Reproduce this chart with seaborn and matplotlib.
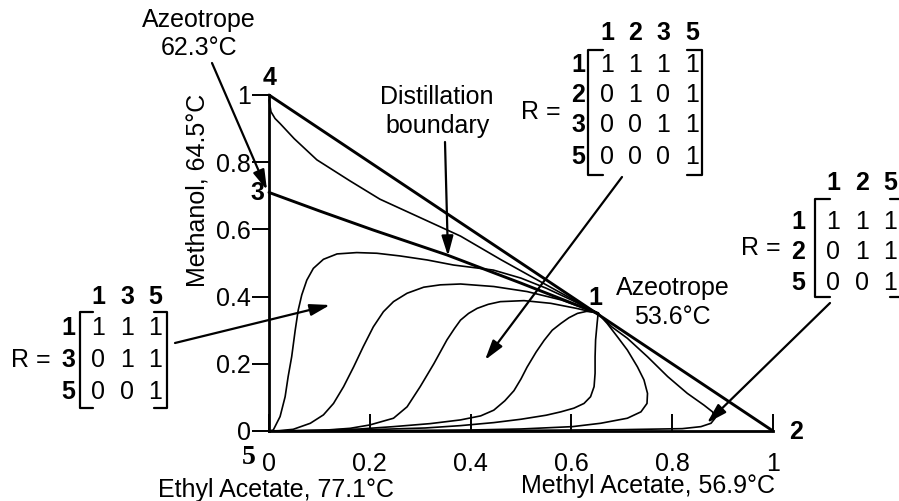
import numpy as np
import pandas as pd
import matplotlib
matplotlib.use("Agg")
import matplotlib.pyplot as plt
from matplotlib.lines import Line2D
import seaborn as sns

# ---------------- data ----------------
x_ticks = [0, 0.2, 0.4, 0.6, 0.8, 1]
x_tick_labels = ["0", "0.2", "0.4", "0.6", "0.8", "1"]
y_ticks = [0, 0.2, 0.4, 0.6, 0.8, 1]
y_tick_labels = ["0", "0.2", "0.4", "0.6", "0.8", "1"]

# thick lines
hyp_x = [0.0, 1.0]
hyp_y = [1.0, 0.0]
boundary_x = [0.0, 0.10, 0.207, 0.353, 0.50, 0.653]
boundary_y = [0.71, 0.655, 0.598, 0.524, 0.44, 0.35]

# residue curves (thin)
top_x = [0.0, 0.004, 0.012, 0.022, 0.05, 0.095, 0.16, 0.22, 0.30, 0.38, 0.46, 0.55, 0.653]
top_y = [0.985, 0.95, 0.93, 0.915, 0.87, 0.807, 0.745, 0.69, 0.635, 0.58, 0.51, 0.435, 0.35]

curveA_x = [0.0, 0.0085, 0.022, 0.032, 0.038, 0.045, 0.052, 0.058, 0.065, 0.075, 0.088, 0.108, 0.135, 0.174, 0.214, 0.26, 0.314, 0.366, 0.445, 0.50, 0.55, 0.60, 0.653]
curveA_y = [0.0, 0.003, 0.043, 0.102, 0.162, 0.221, 0.30, 0.36, 0.405, 0.449, 0.484, 0.511, 0.527, 0.531, 0.529, 0.521, 0.509, 0.494, 0.479, 0.455, 0.425, 0.39, 0.35]

curveB_x = [0.0, 0.02, 0.048, 0.082, 0.108, 0.128, 0.148, 0.168, 0.187, 0.207, 0.227, 0.247, 0.274, 0.307, 0.34, 0.38, 0.446, 0.512, 0.58, 0.653]
curveB_y = [0.0, 0.001, 0.005, 0.023, 0.048, 0.082, 0.132, 0.191, 0.251, 0.31, 0.355, 0.385, 0.41, 0.428, 0.435, 0.4375, 0.43, 0.415, 0.39, 0.35]

curveC_x = [0.0, 0.06, 0.115, 0.161, 0.20, 0.247, 0.274, 0.30, 0.327, 0.353, 0.368, 0.38, 0.396, 0.413, 0.435, 0.459, 0.506, 0.559, 0.61, 0.653]
curveC_y = [0.0, 0.001, 0.003, 0.008, 0.018, 0.038, 0.072, 0.132, 0.20, 0.271, 0.305, 0.33, 0.35, 0.365, 0.377, 0.385, 0.388, 0.38, 0.365, 0.35]

curveD_x = [0.0, 0.10, 0.18, 0.247, 0.32, 0.38, 0.42, 0.446, 0.468, 0.486, 0.50, 0.512, 0.53, 0.546, 0.562, 0.579, 0.595, 0.612, 0.63, 0.645, 0.653]
curveD_y = [0.0, 0.002, 0.006, 0.013, 0.022, 0.033, 0.045, 0.062, 0.09, 0.12, 0.155, 0.19, 0.235, 0.27, 0.30, 0.32, 0.337, 0.35, 0.356, 0.354, 0.35]

curveE_x = [0.653, 0.651, 0.648, 0.647, 0.647, 0.645, 0.638, 0.625, 0.605, 0.579, 0.55, 0.50, 0.446, 0.38, 0.31, 0.20, 0.10, 0.0]
curveE_y = [0.35, 0.32, 0.271, 0.221, 0.172, 0.132, 0.102, 0.082, 0.068, 0.057, 0.047, 0.035, 0.025, 0.016, 0.009, 0.004, 0.001, 0.0]

curveF_x = [0.653, 0.671, 0.691, 0.711, 0.731, 0.744, 0.751, 0.75, 0.738, 0.711, 0.658, 0.602, 0.50, 0.40, 0.25, 0.10, 0.0]
curveF_y = [0.35, 0.32, 0.281, 0.241, 0.191, 0.152, 0.112, 0.082, 0.057, 0.038, 0.023, 0.013, 0.006, 0.003, 0.001, 0.0, 0.0]

curveG_x = [0.653, 0.68, 0.711, 0.751, 0.791, 0.83, 0.863, 0.88, 0.885, 0.877, 0.857, 0.82, 0.70, 0.50, 0.30, 0.0]
curveG_y = [0.35, 0.31, 0.276, 0.221, 0.162, 0.112, 0.077, 0.057, 0.038, 0.023, 0.013, 0.007, 0.004, 0.002, 0.001, 0.0]

# matrices
mat4_cols = ["1", "2", "3", "5"]
mat4_vals = [[1, 1, 1, 1], [0, 1, 0, 1], [0, 0, 1, 1], [0, 0, 0, 1]]
matL_cols = ["1", "3", "5"]
matL_vals = [[1, 1, 1], [0, 1, 1], [0, 0, 1]]
matR_cols = ["1", "2", "5"]
matR_vals = [[1, 1, 1], [0, 1, 1], [0, 0, 1]]

# ---------------- figure ----------------
sns.set_theme(style="white")
plt.rcParams["font.family"] = ["Liberation Sans", "DejaVu Sans"]

W, H = 899, 501
fig = plt.figure(figsize=(W / 100, H / 100), dpi=100)
fig.patch.set_facecolor("white")


def P(px, py):
    return (px / W, 1 - py / H)


ax = fig.add_axes([269 / W, 70 / H, 504 / W, 336 / H])
ax.set_facecolor("none")

thin = []
for name, cx, cy in [("top", top_x, top_y), ("A", curveA_x, curveA_y), ("B", curveB_x, curveB_y),
                     ("C", curveC_x, curveC_y), ("D", curveD_x, curveD_y), ("E", curveE_x, curveE_y),
                     ("F", curveF_x, curveF_y), ("G", curveG_x, curveG_y)]:
    thin.append(pd.DataFrame({"x": cx, "y": cy, "curve": name}))
thin = pd.concat(thin, ignore_index=True)

thick = pd.concat([pd.DataFrame({"x": hyp_x, "y": hyp_y, "curve": "hyp"}),
                   pd.DataFrame({"x": boundary_x, "y": boundary_y, "curve": "bnd"})], ignore_index=True)

sns.lineplot(data=thin, x="x", y="y", units="curve", estimator=None, sort=False,
             color="black", linewidth=1.2, ax=ax, legend=False, clip_on=False)
sns.lineplot(data=thick, x="x", y="y", units="curve", estimator=None, sort=False,
             color="black", linewidth=2.1, ax=ax, legend=False, clip_on=False)

ax.set_xlim(0, 1)
ax.set_ylim(0, 1)
ax.set_xlabel("")
ax.set_ylabel("")
for s in ["top", "right"]:
    ax.spines[s].set_visible(False)
for s in ["left", "bottom"]:
    ax.spines[s].set_color("black")
    ax.spines[s].set_linewidth(2.0)

FS = 18
ax.set_xticks(x_ticks)
ax.set_xticklabels(x_tick_labels)
ax.set_yticks(y_ticks)
ax.set_yticklabels(y_tick_labels)
ax.tick_params(axis="x", direction="in", length=12, width=1.4, bottom=True, pad=15,
               labelsize=FS, colors="black")
ax.tick_params(axis="y", direction="out", length=12, width=1.4, left=True, pad=1,
               labelsize=FS, colors="black")

# ---------------- texts ----------------
def T(px, py, s, **kw):
    kw.setdefault("fontsize", FS)
    kw.setdefault("ha", "center")
    kw.setdefault("va", "center")
    fig.text(*P(px, py), s, color="black", **kw)


T(197, 190, "Methanol, 64.5°C", rotation=90)
T(276, 490, "Ethyl Acetate, 77.1°C")
T(648, 486, "Methyl Acetate, 56.9°C")

T(199, 20, "Azeotrope")
T(199, 48, "62.3°C")
T(437, 97, "Distillation")
T(438, 126, "boundary")
T(673, 288, "Azeotrope")
T(672, 317, "53.6°C")

T(270, 78, "4", fontweight="bold")
T(257, 193, "3", fontweight="bold")
T(595, 298, "1", fontweight="bold")
T(796, 432, "2", fontweight="bold")
T(249, 458, "5", fontweight="bold", fontsize=20, family=["Liberation Serif"])


def matrix(cols, vals, col_x, row_y, head_y, lab_x, r_xy, lb, rb, top, bot, tick):
    T(*r_xy, "R =")
    for c, xx in zip(cols, col_x):
        T(xx, head_y, c, fontweight="bold")
    for r, yy, row in zip(cols, row_y, vals):
        T(lab_x, yy, r, fontweight="bold")
        for v, xx in zip(row, col_x):
            T(xx, yy, str(v))
    lw = 1.6
    for xs, ys in [([lb + tick, lb, lb, lb + tick], [top, top, bot, bot]),
                   ([rb - tick, rb, rb, rb - tick], [top, top, bot, bot])]:
        fx = [x / W for x in xs]
        fy = [1 - y / H for y in ys]
        fig.add_artist(Line2D(fx, fy, color="black", lw=lw))


matrix(mat4_cols, mat4_vals, [607, 635, 663, 692], [65, 95, 125, 157], 33, 578,
       (541, 112), 588, 702, 50, 175, 15)
matrix(matL_cols, matL_vals, [98, 127, 155], [328, 360, 392], 297, 68,
       (31, 360), 80, 167, 312, 408, 13)
matrix(matR_cols, matR_vals, [833, 862, 890], [222, 252, 283], 183, 798,
       (761, 248), 815, 905, 199, 297, 15)

# ---------------- arrows ----------------
arrows = [((212, 63), (267, 190)),
          ((445, 142), (448, 256)),
          ((622, 177), (485, 360)),
          ((830, 303), (707, 423)),
          ((175, 343), (330, 305))]
for (sx, sy), (ex, ey) in arrows:
    ax.annotate("", xy=P(ex, ey), xycoords="figure fraction",
                xytext=P(sx, sy), textcoords="figure fraction",
                arrowprops=dict(arrowstyle="-|>,head_length=0.75,head_width=0.22",
                                mutation_scale=16, color="black", lw=1.6,
                                shrinkA=0, shrinkB=0),
                annotation_clip=False)

fig.savefig("out.png", dpi=100)
